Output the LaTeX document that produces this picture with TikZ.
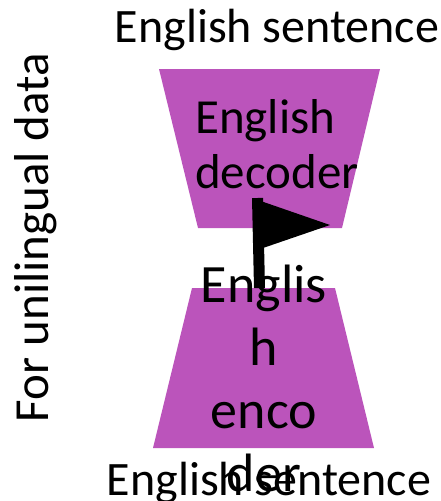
\documentclass[tikz,border=0pt]{standalone}
\usepackage{fontspec}
\setmainfont{Carlito}
\definecolor{boxpurple}{RGB}{187,84,187}

\begin{document}
\begin{tikzpicture}[x=1pt, y=-1pt,
    every node/.style={font=\fontsize{49}{58}\selectfont, inner sep=0pt},
    coderbox/.style={fill=boxpurple},
    sentence/.style={anchor=base, font=\fontsize{48}{58}\selectfont},
    enctext/.style={anchor=base, font=\fontsize{54}{63}\selectfont}]
    \useasboundingbox (0,0) rectangle (441,501);

    % decoder and encoder blocks
    \fill[coderbox] (159,69) -- (380,69) -- (342,228) -- (198,228) -- cycle;
    \fill[coderbox] (192,288) -- (335,288) -- (374,448) -- (153,448) -- cycle;
    \coordinate (enctop) at (259.5,288);
    \coordinate (flagtop) at (257.5,198);

    % arrow from encoder up into decoder
    \draw[line width=11pt] (enctop) -- (flagtop);
    \fill (flagtop) ++(-5.5,0) -- (330,225) -- (263,248) -- cycle;

    \node[sentence] (topsent) at (277,42) {English sentence};
    \node[sentence] (botsent) at (269,495) {English sentence};
    \node[anchor=base, rotate=90] (side) at (48,237.5) {For unilingual data};

    \node[anchor=base west] (dectxt1) at (195,133) {English};
    \node[anchor=base west] (dectxt2) at (195,188) {decoder};
    \foreach \t/\y in {Englis/302, h/365, enco/428, der/491}
        \node[enctext] (enctxt-\y) at (264,\y) {\t};
\end{tikzpicture}
\end{document}
